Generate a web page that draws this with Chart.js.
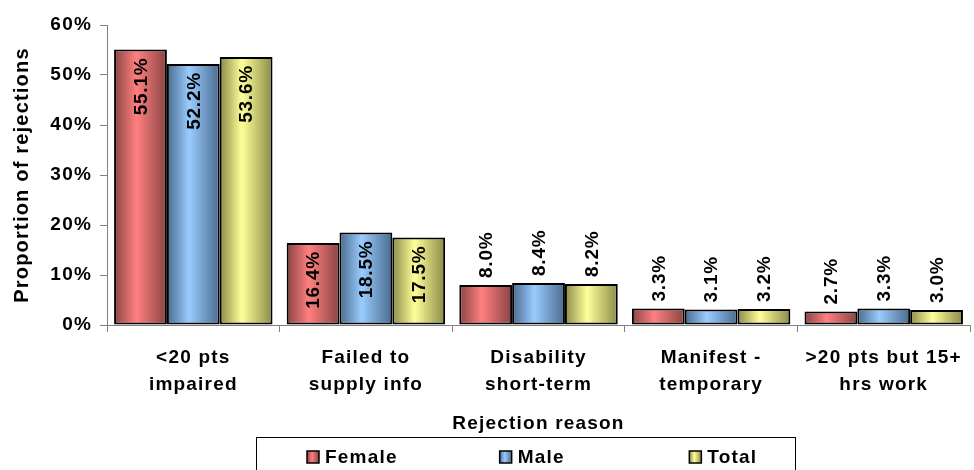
<!DOCTYPE html>
<html>
<head>
<meta charset="utf-8">
<script src="https://cdn.jsdelivr.net/npm/chart.js@4.4.0/dist/chart.umd.min.js"></script>
<style>
  html, body { margin: 0; padding: 0; background: #fff; }
  #wrap { width: 974px; height: 470px; }
</style>
</head>
<body>
<div id="wrap"><canvas id="chart"></canvas></div>
<script>
// values (percent)
const reasons = [
  ['<20 pts', 'impaired'],
  ['Failed to', 'supply info'],
  ['Disability', 'short-term'],
  ['Manifest -', 'temporary'],
  ['>20 pts but 15+', 'hrs work']
];
const female = [55.1, 16.4, 8.0, 3.3, 2.7];
const male = [52.2, 18.5, 8.4, 3.1, 3.3];
const total = [53.6, 17.5, 8.2, 3.2, 3.0];
const seriesNames = ['Female', 'Male', 'Total'];
const yTickValues = [0, 10, 20, 30, 40, 50, 60];

// edge / middle colours of the shaded bars
const shades = [
  ['#8a4343', '#ff8080'],
  ['#4a6a8c', '#99ccff'],
  ['#8a8a48', '#ffff99']
];

const FONT = 'Liberation Sans';
const SPACING = '1.2px';

function barGradient(ctx, x, w, pair) {
  const g = ctx.createLinearGradient(x - w / 2, 0, x + w / 2, 0);
  g.addColorStop(0, pair[0]);
  g.addColorStop(0.42, pair[1]);
  g.addColorStop(1, pair[0]);
  return g;
}

// excel-style loose letter spacing on all canvas text
function setSpacing(chart) { chart.ctx.letterSpacing = SPACING; }
const spacingPlugin = {
  id: 'spacing',
  afterInit: setSpacing,
  beforeLayout: setSpacing,
  beforeDraw: setSpacing
};

// give every bar its own horizontal shading
const shadePlugin = {
  id: 'shade',
  beforeDatasetsDraw(chart) {
    const ctx = chart.ctx;
    chart.data.datasets.forEach((ds, di) => {
      chart.getDatasetMeta(di).data.forEach(el => {
        el.options.backgroundColor = barGradient(ctx, el.x, el.width, shades[di]);
      });
    });
  }
};

// rotated value labels: inside tall bars, above short ones
const valueLabels = {
  id: 'valueLabels',
  afterDatasetsDraw(chart) {
    const ctx = chart.ctx;
    ctx.save();
    ctx.font = 'bold 19px "' + FONT + '"';
    ctx.letterSpacing = '0.8px';
    ctx.fillStyle = '#000';
    ctx.textBaseline = 'middle';
    chart.data.datasets.forEach((ds, di) => {
      chart.getDatasetMeta(di).data.forEach((el, i) => {
        const v = ds.data[i];
        const txt = v.toFixed(1) + '%';
        ctx.save();
        ctx.translate(el.x, el.y);
        ctx.rotate(-Math.PI / 2);
        if (v > 12) {
          ctx.textAlign = 'right';
          ctx.fillText(txt, -8, 1);
        } else {
          ctx.textAlign = 'left';
          ctx.fillText(txt, 7, 1);
        }
        ctx.restore();
      });
    });
    ctx.restore();
  }
};

// boxed legend along the bottom edge
const boxLegend = {
  id: 'boxLegend',
  afterDraw(chart) {
    const ctx = chart.ctx;
    const top = chart.height - 33;
    const left = 256, right = 795;
    ctx.save();
    ctx.strokeStyle = '#000';
    ctx.lineWidth = 1;
    ctx.strokeRect(left + 0.5, top + 0.5, right - left, 60);
    const slot = (right - left) / 3;
    const offs = [51, 64, 74];
    ctx.font = 'bold 19px "' + FONT + '"';
    ctx.textBaseline = 'middle';
    ctx.textAlign = 'left';
    chart.data.datasets.forEach((ds, di) => {
      const bx = left + slot * di + offs[di];
      const by = top + 14;
      ctx.fillStyle = barGradient(ctx, bx + 6, 12, shades[di]);
      ctx.fillRect(bx, by, 12, 12);
      ctx.strokeStyle = '#000';
      ctx.lineWidth = 1.5;
      ctx.strokeRect(bx, by, 12, 12);
      ctx.fillStyle = '#000';
      ctx.fillText(ds.label, bx + 18, by + 6.5);
    });
    ctx.restore();
  }
};

const data = {
  labels: reasons,
  datasets: [female, male, total].map((vals, i) => ({
    label: seriesNames[i],
    data: vals,
    backgroundColor: () => shades[i][1],
    borderColor: '#000',
    borderWidth: 2,
    borderSkipped: false,
    categoryPercentage: 0.918,
    barPercentage: 1
  }))
};

new Chart(document.getElementById('chart'), {
  type: 'bar',
  data: data,
  plugins: [spacingPlugin, shadePlugin, valueLabels, boxLegend],
  options: {
    responsive: true,
    maintainAspectRatio: false,
    animation: false,
    layout: { padding: { top: 25, right: 1, bottom: 35, left: 0 } },
    plugins: {
      legend: { display: false },
      tooltip: { enabled: false }
    },
    scales: {
      x: {
        grid: { display: true, drawOnChartArea: false, drawTicks: true, tickLength: 7, color: '#808080' },
        border: { color: '#808080', width: 1 },
        ticks: {
          color: '#000',
          padding: 12,
          maxRotation: 0,
          autoSkip: false,
          font: { family: FONT, weight: 'bold', size: 19, lineHeight: 1.42 }
        },
        title: {
          display: true,
          text: 'Rejection reason',
          color: '#000',
          padding: { top: 0, bottom: 0 },
          font: { family: FONT, weight: 'bold', size: 19, lineHeight: 1.2 }
        },
        afterFit(scale) { scale.height = 110; }
      },
      y: {
        min: 0,
        max: 60,
        afterBuildTicks(scale) { scale.ticks = yTickValues.map(v => ({ value: v })); },
        grid: { display: true, drawOnChartArea: false, drawTicks: true, tickLength: 7, color: '#808080' },
        border: { color: '#808080', width: 1 },
        ticks: {
          color: '#000',
          padding: 8,
          callback: v => v + '%',
          font: { family: FONT, weight: 'bold', size: 19 }
        },
        title: {
          display: true,
          text: 'Proportion of rejections',
          color: '#000',
          padding: { top: 10, bottom: 0 },
          font: { family: FONT, weight: 'bold', size: 20, lineHeight: 1.2 }
        },
        afterFit(scale) { scale.width = 107; }
      }
    }
  }
});
</script>
</body>
</html>
